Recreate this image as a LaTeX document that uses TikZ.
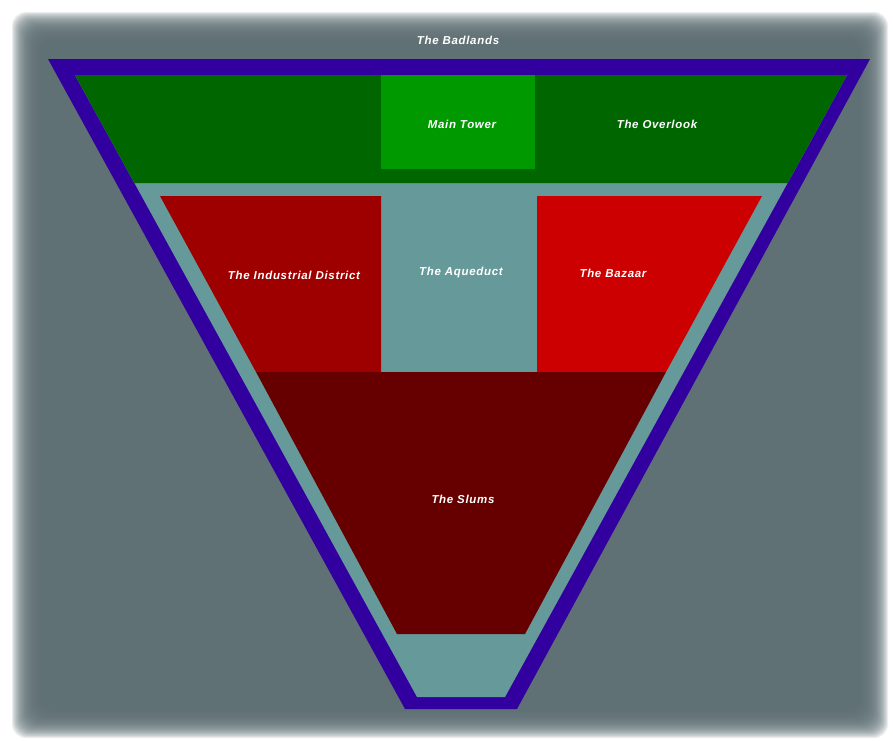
\documentclass[tikz,border=0pt]{standalone}
\usepackage{fontspec}
\setmainfont{Liberation Sans}
\newfontfamily\lblfont[LetterSpace=6]{Liberation Sans}
\definecolor{panel}{RGB}{96,113,118}
\definecolor{rim}{RGB}{51,0,160}
\definecolor{teal2}{RGB}{102,153,153}
\definecolor{dgreen}{RGB}{0,102,0}
\definecolor{lgreen}{RGB}{0,153,0}
\definecolor{indred}{RGB}{158,0,0}
\definecolor{bazred}{RGB}{204,0,0}
\definecolor{slumred}{RGB}{102,0,0}
\tikzset{
  lbl/.style={text=white,font=\lblfont\fontsize{11.5}{13}\selectfont\bfseries\itshape,inner sep=1pt},
}
\begin{document}
\begin{tikzpicture}[x=1pt,y=-1pt]
\useasboundingbox (0,0) rectangle (893,740);
\fill[white] (0,0) rectangle (893,740);
% fuzzy panel
\foreach \i in {0,...,29}{
  \fill[panel,fill opacity=0.13,rounded corners=14pt] ({12+\i*1.1},{12+\i*1.1}) rectangle ({888-\i*1.1},{738-\i*1.1});
}
\fill[panel,rounded corners=10pt] (42,42) rectangle (851,708);
% outer rim
\fill[rim] (48,59) -- (870,59) -- (517,709) -- (405,709) -- cycle;
\fill[teal2] (75,75) -- (847,75) -- (505,697) -- (417,697) -- cycle;
% top band
\fill[dgreen] (75,75) -- (847,75) -- (787.6,183) -- (134.4,183) -- cycle;
\fill[lgreen] (381,75) rectangle (535,169);
% middle row
\fill[indred] (160,196) -- (381,196) -- (381,372) -- (256,372) -- cycle;
\fill[bazred] (537,196) -- (762,196) -- (666,372) -- (537,372) -- cycle;
% slums
\fill[slumred] (256,372) -- (666,372) -- (525,634) -- (397,634) -- cycle;
% labels
\node[lbl] (badlands) at (458,40) {The Badlands};
\node[lbl] (tower) at (462,124) {Main Tower};
\node[lbl] (overlook) at (657,124) {The Overlook};
\node[lbl] (industrial) at (294,275) {The Industrial District};
\node[lbl] (aqueduct) at (461,273) {The Aqueduct};
\node[lbl] (bazaar) at (613,273) {The Bazaar};
\node[lbl] (slums) at (463,499) {The Slums};
\end{tikzpicture}
\end{document}
